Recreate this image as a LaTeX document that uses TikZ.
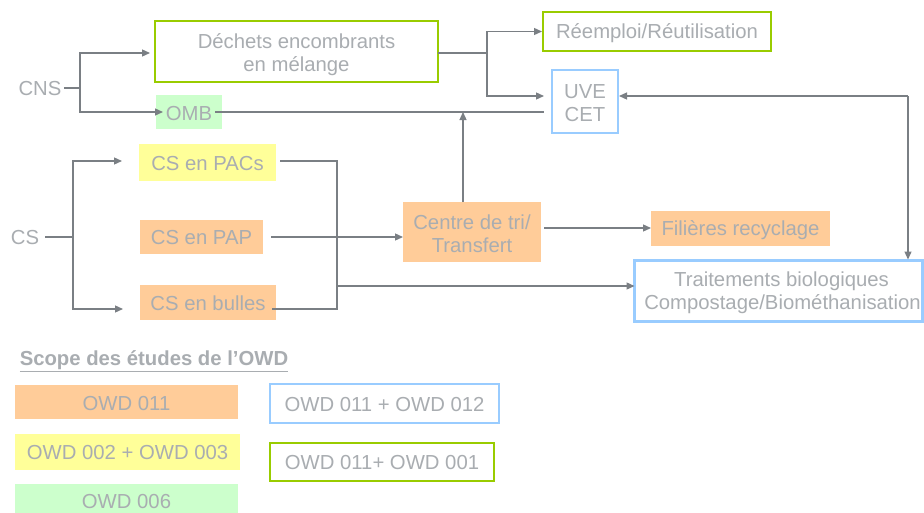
\documentclass[tikz,border=0pt]{standalone}
\usepackage{fontspec}
\setmainfont{Liberation Sans}
\usetikzlibrary{arrows.meta,calc}
\definecolor{txt}{HTML}{A9ADB1}
\definecolor{ln}{HTML}{7A7F84}
\definecolor{orangef}{HTML}{FFCC99}
\definecolor{yellowf}{HTML}{FFFF99}
\definecolor{greenf}{HTML}{CCFFCC}
\definecolor{greenb}{HTML}{99CC00}
\definecolor{blueb}{HTML}{99CCFF}
\newcommand\dn[2][1.5pt]{\raisebox{-#1}[\height][\depth]{#2}}
\tikzset{
  base/.style={text=txt, font=\fontsize{20.3}{23}\selectfont, align=center, inner sep=0pt, outer sep=0pt},
  lbl/.style={base},
  fillbox/.style={base, fill=#1},
  framebox/.style={base, draw=#1, line width=2.8pt, fill=white},
  ln/.style={draw=ln, line width=1.3pt},
  arr/.style={ln, -{Triangle[length=8pt,width=7pt]}},
}
\begin{document}
\begin{tikzpicture}[x=1pt,y=-1pt]
\useasboundingbox (0,0) rectangle (924,512);
\clip (0,0) rectangle (924,512);
\fill[white] (0,0) rectangle (924,512);

% nodes
\node[lbl] (cns) at (40,89) {CNS};
\node[framebox=greenb, minimum width=283pt, minimum height=61pt] (dechets) at (296.5,51.5) {\dn[3.5pt]{\parbox{280pt}{\centering Déchets encombrants\\en mélange}}};
\node[fillbox=greenf, minimum width=66pt, minimum height=34pt] (omb) at (189,112) {\dn{OMB}};
\node[framebox=greenb, minimum width=228pt, minimum height=39pt] (reemploi) at (657,31.5) {\dn[2pt]{Réemploi/Réutilisation}};
\node[framebox=blueb, minimum width=66pt, minimum height=63pt] (uve) at (585,101.5) {\dn[2pt]{\parbox{60pt}{\centering UVE\\CET}}};

\node[lbl] (cs) at (25,238) {CS};
\node[fillbox=yellowf, minimum width=137pt, minimum height=37pt] (pacs) at (207.5,162.5) {\dn[1pt]{CS en PACs}};
\node[fillbox=orangef, minimum width=123pt, minimum height=34pt] (pap) at (201.5,237) {\dn[1pt]{CS en PAP}};
\node[fillbox=orangef, minimum width=136pt, minimum height=35pt] (bulles) at (208,302.5) {\dn[1pt]{CS en bulles}};
\node[fillbox=orangef, minimum width=138pt, minimum height=60pt] (centre) at (472,232) {\dn[2pt]{\parbox{136pt}{\centering Centre de tri/\\Transfert}}};
\node[fillbox=orangef, minimum width=179pt, minimum height=35pt] (filieres) at (740.5,228.5) {\dn[2pt]{Filières recyclage}};
\node[framebox=blueb, minimum width=288pt, minimum height=61pt] (trait) at (778.5,291) {\dn[2pt]{\parbox{286pt}{\centering\hspace*{6pt}Traitements biologiques\\\hspace*{8pt}Compostage/Biométhanisation}}};

% legend
\node[base, font=\fontsize{20.3}{23}\selectfont\bfseries] (title) at (154,361) {\underline{Scope des études de l’OWD}};
\node[fillbox=orangef, minimum width=223pt, minimum height=34pt] (l1) at (126.5,402) {\dn[2pt]{OWD 011}};
\node[fillbox=yellowf, minimum width=225pt, minimum height=36pt] (l2) at (127.5,452) {\dn[1pt]{OWD 002 + OWD 003}};
\node[fillbox=greenf, minimum width=223pt, minimum height=34pt] (l3) at (126.5,501) {\dn[1pt]{OWD 006}};
\node[framebox=blueb, minimum width=229pt, minimum height=39pt] (l4) at (384.5,403.5) {\dn[1pt]{OWD 011 + OWD 012}};
\node[framebox=greenb, minimum width=224pt, minimum height=38pt] (l5) at (382,462) {\dn[1pt]{OWD 011+ OWD 001}};

% junction coordinates
\coordinate (j1) at (80,88);
\coordinate (j2) at (487,53);
\coordinate (j3) at (73,237);
\coordinate (j4) at (337,161);
\coordinate (j5) at (337,309);
\coordinate (j6) at (337,286);
\coordinate (k) at (908,96);
\coordinate (up) at (463,202);
\coordinate (upend) at (463,112);

% CNS branch
\draw[ln] ([xshift=3pt,yshift=1pt]cns.east) -- (j1);
\draw[arr, shorten >=5pt] (j1) |- ([yshift=-1.5pt]dechets.west);
\draw[arr, shorten >=-7pt] (j1) |- (omb.west);
\draw[ln] ([xshift=-7pt]omb.east) -- ([xshift=-8pt]uve.west |- omb);
\draw[ln] ([yshift=-1.5pt]dechets.east) -- (j2);
\draw[arr] (j2) |- ([xshift=-1pt]reemploi.west);
\draw[arr, shorten >=8pt] (j2) |- ([yshift=5.5pt]uve.west);
\draw[arr] (up) -- (upend);
\draw[arr, shorten >=1pt] (k) -- ([yshift=5.5pt]uve.east);
\draw[arr, shorten >=1pt] (k) -- (k |- trait.north);

% CS branch
\draw[ln] ([xshift=6pt,yshift=1pt]cs.east) -- (j3);
\draw[arr, shorten >=17pt] (j3) |- ([yshift=1.5pt]pacs.west);
\draw[arr, shorten >=17pt] (j3) |- ([yshift=-6.5pt]bulles.west);
\draw[ln] ([xshift=4pt,yshift=1.5pt]pacs.east) -- (j4) -- (j5) -- ([xshift=-4pt,yshift=-6.5pt]bulles.east);
\draw[arr] ([xshift=8pt]pap.east) -- (pap.east -| centre.west);
\draw[arr] (j6) -- (j6 -| trait.west);
\draw[arr] ([xshift=3pt,yshift=4pt]centre.east) -- ([yshift=4pt]centre.east -| filieres.west);
\end{tikzpicture}
\end{document}
